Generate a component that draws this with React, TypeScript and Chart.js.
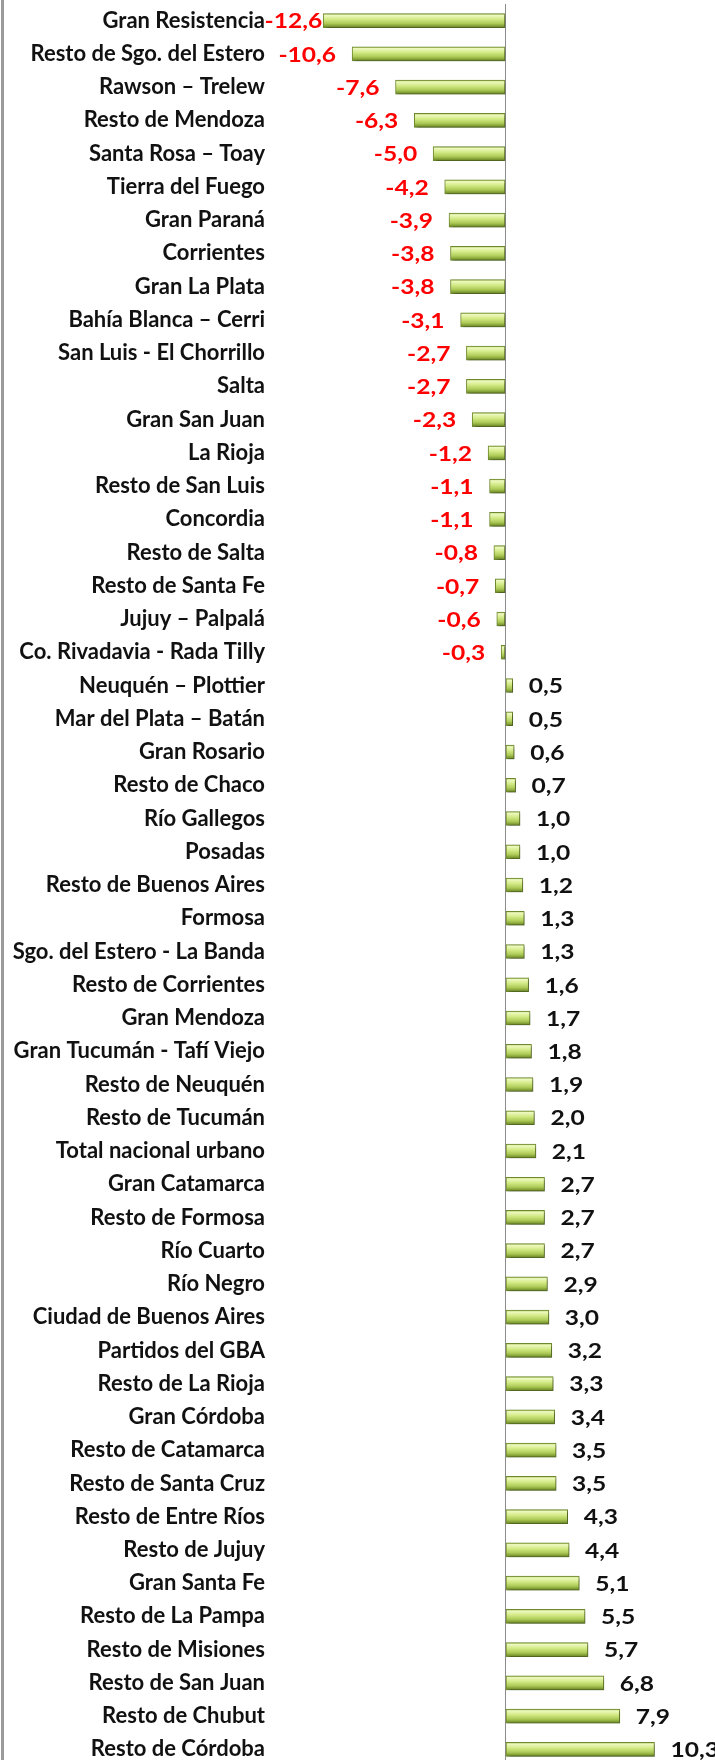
import React, { useEffect, useRef } from "react";
import { Chart, registerables } from "chart.js";

Chart.register(...registerables);

const categories: string[] = [
  "Gran Resistencia",
  "Resto de Sgo. del Estero",
  "Rawson – Trelew",
  "Resto de Mendoza",
  "Santa Rosa – Toay",
  "Tierra del Fuego",
  "Gran Paraná",
  "Corrientes",
  "Gran La Plata",
  "Bahía Blanca – Cerri",
  "San Luis - El Chorrillo",
  "Salta",
  "Gran San Juan",
  "La Rioja",
  "Resto de San Luis",
  "Concordia",
  "Resto de Salta",
  "Resto de Santa Fe",
  "Jujuy – Palpalá",
  "Co. Rivadavia - Rada Tilly",
  "Neuquén – Plottier",
  "Mar del Plata – Batán",
  "Gran Rosario",
  "Resto de Chaco",
  "Río Gallegos",
  "Posadas",
  "Resto de Buenos Aires",
  "Formosa",
  "Sgo. del Estero - La Banda",
  "Resto de Corrientes",
  "Gran Mendoza",
  "Gran Tucumán - Tafí Viejo",
  "Resto de Neuquén",
  "Resto de Tucumán",
  "Total nacional urbano",
  "Gran Catamarca",
  "Resto de Formosa",
  "Río Cuarto",
  "Río Negro",
  "Ciudad de Buenos Aires",
  "Partidos del GBA",
  "Resto de La Rioja",
  "Gran Córdoba",
  "Resto de Catamarca",
  "Resto de Santa Cruz",
  "Resto de Entre Ríos",
  "Resto de Jujuy",
  "Gran Santa Fe",
  "Resto de La Pampa",
  "Resto de Misiones",
  "Resto de San Juan",
  "Resto de Chubut",
  "Resto de Córdoba",
];

const values: number[] = [
  -12.6, -10.6, -7.6, -6.3, -5.0, -4.2, -3.9, -3.8, -3.8, -3.1, -2.7, -2.7,
  -2.3, -1.2, -1.1, -1.1, -0.8, -0.7, -0.6, -0.3, 0.5, 0.5, 0.6, 0.7, 1.0,
  1.0, 1.2, 1.3, 1.3, 1.6, 1.7, 1.8, 1.9, 2.0, 2.1, 2.7, 2.7, 2.7, 2.9, 3.0,
  3.2, 3.3, 3.4, 3.5, 3.5, 4.3, 4.4, 5.1, 5.5, 5.7, 6.8, 7.9, 10.3,
];

const FONT = "Lato, 'Open Sans', sans-serif";
const STRETCH = 1.17;

const fmt = (v: number) => v.toFixed(1).replace(".", ",");

const valueLabels = {
  id: "valueLabels",
  afterDatasetsDraw(chart: any) {
    const ctx = chart.ctx;
    const meta = chart.getDatasetMeta(0);
    ctx.save();
    ctx.font = `bold 21px ${FONT}`;
    ctx.textBaseline = "middle";
    ctx.scale(STRETCH, 1);
    meta.data.forEach((el: any, i: number) => {
      const v = values[i];
      const txt = fmt(v);
      const w = ctx.measureText(txt).width * STRETCH;
      if (v < 0) {
        ctx.fillStyle = "#ff0000";
        ctx.textAlign = "right";
        let x = el.x - 16;
        const minX = chart.chartArea.left - 8 + w;
        if (x < minX) x = Math.min(el.x - 1, minX);
        ctx.fillText(txt, x / STRETCH, el.y + 1);
      } else {
        ctx.fillStyle = "#111111";
        ctx.textAlign = "left";
        ctx.fillText(txt, (el.x + 16) / STRETCH, el.y + 1);
      }
    });
    ctx.restore();
  },
};

const frame = {
  id: "frame",
  beforeDraw(chart: any) {
    const ctx = chart.ctx;
    ctx.save();
    ctx.fillStyle = "#ffffff";
    ctx.fillRect(0, 0, chart.width, chart.height);
    ctx.fillStyle = "#9a9a9a";
    ctx.fillRect(1, 0, 3, chart.height);
    ctx.restore();
  },
  beforeDatasetsDraw(chart: any) {
    const ctx = chart.ctx;
    ctx.save();
    ctx.shadowColor = "rgba(0,0,0,0.35)";
    ctx.shadowOffsetX = 2;
    ctx.shadowOffsetY = 2;
    ctx.shadowBlur = 3;
  },
  afterDatasetsDraw(chart: any) {
    chart.ctx.restore();
  },
};

export default function App() {
  const ref = useRef<HTMLCanvasElement | null>(null);

  useEffect(() => {
    document.body.style.margin = "0";
    const canvas = ref.current;
    if (!canvas) return;
    const chart = new Chart(canvas, {
      type: "bar",
      data: {
        labels: categories,
        datasets: [
          {
            data: values,
            backgroundColor: (c: any) => {
              const ch = c.chart;
              const ys = ch.scales && ch.scales.y;
              if (!ys || c.type !== "data") return "#b5d15c";
              const py = ys.getPixelForValue(c.dataIndex);
              if (!isFinite(py)) return "#b5d15c";
              const g = ch.ctx.createLinearGradient(0, py - 7, 0, py + 7);
              g.addColorStop(0, "#9fbb4c");
              g.addColorStop(0.12, "#eef9c0");
              g.addColorStop(0.4, "#d3ea86");
              g.addColorStop(0.7, "#aecb58");
              g.addColorStop(0.9, "#7f9c34");
              g.addColorStop(1, "#5f7a22");
              return g;
            },
            borderColor: "#6f8a2e",
            borderWidth: 1,
            borderSkipped: false,
            barThickness: 14,
          },
        ],
      },
      options: {
        indexAxis: "y",
        animation: false,
        responsive: false,
        events: [],
        layout: { padding: { top: 4, right: 7, left: 0, bottom: 0 } },
        plugins: {
          legend: { display: false },
          tooltip: { enabled: false },
          title: { display: false },
        },
        scales: {
          x: {
            min: -16,
            max: 14,
            afterFit: (s: any) => {
              s.height = 0;
              s.paddingLeft = 0;
              s.paddingRight = 0;
              s.paddingTop = 0;
              s.paddingBottom = 0;
            },
            ticks: { display: false, stepSize: 1 },
            border: { display: false },
            grid: {
              drawTicks: false,
              color: (c: any) =>
                c.tick && c.tick.value === 0 ? "#8c8c8c" : "rgba(0,0,0,0)",
              lineWidth: 1,
            },
          },
          y: {
            afterFit: (s: any) => {
              s.width = 274;
              s.paddingTop = 0;
              s.paddingBottom = 0;
            },
            border: { display: false },
            grid: { display: false, drawTicks: false },
            ticks: {
              padding: 9,
              color: "#111111",
              autoSkip: false,
              font: { family: FONT, size: 22, weight: "bold" },
            },
          },
        },
      },
      plugins: [frame, valueLabels],
    } as any);
    chart.update();
    return () => chart.destroy();
  }, []);

  return (
    <div style={{ width: 715, height: 1760, overflow: "hidden" }}>
      <canvas ref={ref} width={715} height={1766} style={{ display: "block" }} />
    </div>
  );
}
